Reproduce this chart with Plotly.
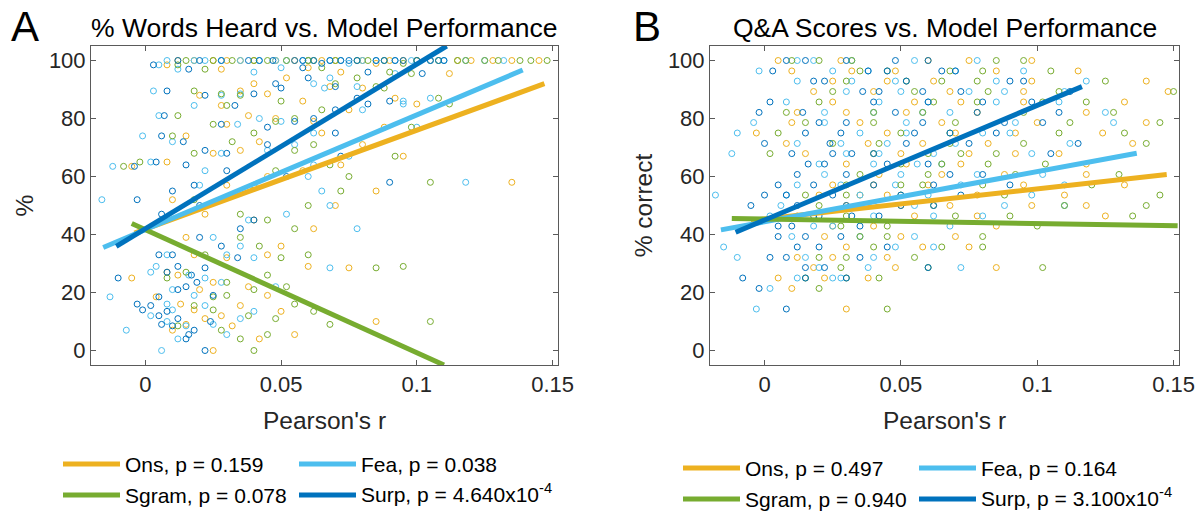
import plotly.graph_objects as go

# ---------------- data ----------------
series_names = ["Ons", "Fea", "Sgram", "Surp"]
series_colors = ["#EDB120", "#4DBEEE", "#77AC30", "#0072BD"]

# Panel A: % words heard per subject and Pearson's r per model
a_y = [100, 100, 100, 100, 100, 100, 100, 100, 100, 100, 100, 100, 100, 100, 100, 100, 100, 100,
       97.5, 98.5, 96, 95.5, 92, 89.5, 88, 86, 84.5, 83, 81, 80, 87, 90.5,
       78, 75, 74, 72, 71, 68, 67, 65, 63.5, 62, 60, 58, 55,
       52, 50, 47, 45, 42, 39, 36,
       33, 32, 29, 28.5, 26, 25, 23.5, 21,
       18.5, 16, 15.5, 12, 11, 10, 8.5, 7, 4, 0, 13.5, 19,
       100, 100, 100, 99, 97, 94, 91, 88.5, 85, 79, 77, 69, 64, 57, 33, 27, 22, 14, 9, 5.5]
a_ons = [0.030, 0.065, 0.120, 0.145, 0.090, 0.012, 0.055, 0.080, 0.040, 0.135, 0.025, 0.070, 0.105, 0.048, 0.018, 0.095, 0.060, 0.115,
         0.060, 0.008, 0.072, 0.112, 0.040, 0.035, 0.020, 0.058, 0.028, 0.075, 0.038, 0.048, 0.092, 0.080,
         0.030, 0.065, 0.015, 0.042, 0.080, 0.025, 0.095, 0.008, -0.005, 0.058, 0.045, 0.135, 0.085,
         0.010, 0.070, 0.022, 0.040, 0.062, 0.015, 0.050,
         0.018, 0.030, 0.060, 0.075, 0.012, -0.005, 0.025, 0.020,
         0.004, 0.013, 0.035, 0.028, 0.022, 0.085, 0.032, 0.010, 0.042, 0.025, 0.050, 0.045,
         0.100, 0.035, 0.128, 0.085, 0.028, 0.052, 0.068, 0.045, 0.100, 0.062, 0.088, 0.035, 0.072, 0.030, 0.045, 0.008, 0.038, 0.018, 0.015, 0.055]
a_fea = [0.022, 0.060, 0.110, 0.105, 0.085, 0.008, 0.048, 0.092, 0.035, 0.125, 0.018, 0.072, 0.098, 0.052, 0.028, 0.118, 0.042, 0.080,
         0.050, 0.005, 0.040, 0.092, 0.062, 0.003, 0.028, 0.095, 0.018, 0.080, 0.005, 0.042, 0.105, 0.066,
         0.034, 0.062, -0.001, 0.010, 0.055, 0.028, 0.075, 0.002, -0.012, 0.022, 0.060, 0.118, 0.065,
         -0.016, 0.068, 0.052, 0.038, 0.078, 0.025, 0.035,
         0.008, 0.040, 0.004, 0.068, 0.016, 0.022, 0.028, 0.010,
         -0.013, 0.008, 0.022, 0.002, 0.035, 0.008, 0.015, -0.007, 0.012, 0.006, 0.040, 0.018,
         0.068, 0.058, 0.132, 0.075, 0.012, 0.068, 0.078, 0.035, 0.095, 0.050, 0.100, 0.045, 0.062, 0.020, 0.030, 0.002, 0.048, 0.010, 0.025, 0.030]
a_sgram = [0.045, 0.070, 0.125, 0.148, 0.115, 0.015, 0.060, 0.100, 0.052, 0.130, 0.032, 0.082, 0.118, 0.040, 0.025, 0.142, 0.078, 0.108,
           0.065, 0.012, 0.090, 0.098, 0.070, 0.018, 0.035, 0.050, 0.030, 0.065, 0.012, 0.055, 0.108, 0.088,
           0.025, 0.040, 0.010, 0.032, 0.062, 0.018, 0.092, -0.002, -0.008, 0.048, 0.075, 0.105, 0.072,
           0.018, 0.060, 0.035, 0.045, 0.055, 0.035, 0.042,
           0.022, 0.050, 0.095, 0.085, 0.045, 0.008, 0.030, 0.040,
           0.025, 0.055, 0.018, 0.038, 0.048, 0.105, 0.012, 0.028, 0.035, 0.040, 0.062, 0.030,
           0.088, 0.062, 0.138, 0.095, 0.022, 0.078, 0.085, 0.028, 0.112, 0.048, 0.098, 0.055, 0.068, 0.040, 0.060, 0.015, 0.052, 0.025, 0.068, 0.045]
a_surp = [0.028, 0.075, 0.095, 0.100, 0.078, 0.020, 0.068, 0.088, 0.055, 0.110, 0.047, 0.062, 0.092, 0.038, 0.012, 0.105, 0.058, 0.085,
          0.058, 0.003, 0.082, 0.102, 0.048, 0.008, 0.022, 0.090, 0.033, 0.070, 0.007, 0.062, 0.078, 0.050,
          0.028, 0.070, 0.006, 0.014, 0.045, 0.030, 0.072, 0.004, -0.004, 0.030, 0.052, 0.090, 0.010,
          -0.003, 0.020, 0.006, 0.040, 0.035, 0.020, 0.028,
          0.005, 0.034, 0.012, 0.022, 0.017, -0.010, 0.019, 0.012,
          0.005, -0.003, 0.002, 0.005, 0.012, 0.024, 0.010, 0.018, 0.015, 0.022, 0.008, 0.025,
          0.072, 0.042, 0.108, 0.065, 0.016, 0.060, 0.070, 0.040, 0.082, 0.055, 0.045, 0.022, 0.015, 0.018, 0.010, 0.008, 0.015, -0.001, 0.006, 0.016]

# Panel B: % correct on Q&A per subject and Pearson's r per model
b_y = [100, 100, 100, 96.4, 96.4, 96.4, 92.9, 92.9, 92.9, 89.3, 89.3, 89.3, 85.7, 85.7, 85.7,
       82.1, 82.1, 82.1, 78.6, 78.6, 78.6, 75.0, 75.0, 75.0, 71.4, 71.4, 71.4, 67.9, 67.9, 67.9,
       64.3, 64.3, 60.7, 60.7, 57.1, 57.1, 57.1, 53.6, 53.6, 53.6, 50.0, 50.0, 50.0,
       46.4, 46.4, 46.4, 42.9, 42.9, 39.3, 39.3, 35.7, 35.7, 32.1, 32.1, 28.6, 28.6,
       25.0, 25.0, 14.3, 21.4, 100, 96.4, 89.3, 85.7, 82.1, 78.6, 75.0, 71.4, 67.9,
       64.3, 60.7, 57.1, 53.6, 50.0, 92.9,
       100, 96.4, 92.9, 89.3, 85.7, 82.1, 78.6, 75.0, 71.4, 67.9, 64.3, 60.7, 57.1, 53.6, 50.0,
       46.4, 42.9, 39.3, 28.6, 25.0, 32.1, 35.7]
b_ons = [0.005, 0.060, 0.075, 0.010, 0.048, 0.085, 0.025, 0.062, 0.140, 0.040, 0.068, 0.148, 0.055, 0.095, 0.025,
         0.030, 0.078, 0.118, 0.010, 0.065, 0.100, 0.124, 0.045, -0.003, 0.038, 0.082, 0.135, 0.015, 0.050, 0.092,
         0.072, 0.118, 0.042, 0.088, 0.025, 0.060, 0.132, 0.020, 0.045, 0.110, 0.030, 0.068, 0.098,
         0.012, 0.055, 0.125, 0.040, 0.085, 0.022, 0.070, 0.030, 0.058, 0.025, 0.045, 0.018, 0.085,
         0.005, 0.038, 0.030, 0.010, 0.028, 0.115, 0.018, 0.132, 0.012, 0.140, 0.070, 0.008, 0.108,
         0.030, 0.118, 0.095, 0.078, 0.118, 0.098,
         0.098, 0.032, 0.045, 0.095, 0.072, 0.052, 0.035, 0.092, 0.058, 0.075, 0.052, 0.065, 0.040, 0.035, 0.050,
         0.078, 0.025, 0.050, 0.048, 0.022, 0.012, 0.075]
b_fea = [0.018, 0.032, 0.055, -0.002, 0.038, 0.070, 0.012, 0.048, 0.118, 0.030, 0.075, 0.110, 0.042, 0.085, 0.008,
         0.022, 0.068, 0.125, -0.004, 0.052, 0.092, 0.090, 0.035, -0.010, 0.028, 0.070, 0.112, -0.012, 0.042, 0.098,
         0.056, 0.040, 0.022, 0.078, 0.012, 0.048, 0.110, -0.018, 0.035, 0.098, 0.006, 0.055, 0.088,
         0.002, 0.040, 0.080, 0.025, 0.068, 0.010, 0.055, -0.015, 0.048, 0.015, 0.040, 0.020, 0.072,
         0.028, 0.025, -0.003, 0.002, 0.012, 0.095, 0.050, 0.108, 0.040, 0.128, 0.080, 0.012, 0.062,
         0.020, 0.102, 0.072, 0.060, 0.110, 0.085,
         0.078, 0.025, 0.032, 0.088, 0.060, 0.058, 0.022, 0.052, 0.045, 0.030, 0.065, 0.050, 0.028, 0.008, 0.040,
         0.062, 0.018, 0.035, 0.038, 0.012, -0.010, 0.062]
b_sgram = [0.020, 0.032, 0.095, 0.045, 0.068, 0.105, 0.030, 0.078, 0.125, 0.055, 0.082, 0.150, 0.062, 0.102, 0.020,
           0.040, 0.058, 0.128, 0.015, 0.070, 0.112, 0.132, 0.050, 0.005, 0.042, 0.095, 0.140, 0.002, 0.060, 0.085,
           0.065, 0.103, 0.035, 0.092, 0.030, 0.080, 0.120, 0.015, 0.050, 0.145, 0.020, 0.062, 0.110,
           0.030, 0.070, 0.135, 0.045, 0.100, 0.035, 0.080, 0.040, 0.065, 0.030, 0.055, 0.028, 0.102,
           0.015, 0.042, 0.045, 0.020, 0.010, 0.080, 0.025, 0.118, 0.008, 0.145, 0.068, 0.025, 0.072,
           0.050, 0.130, 0.058, 0.088, 0.140, 0.065,
           0.085, 0.035, 0.052, 0.108, 0.078, 0.095, 0.040, 0.108, 0.068, 0.040, 0.082, 0.060, 0.050, 0.030, 0.035,
           0.090, 0.028, 0.045, 0.060, 0.030, 0.020, 0.080]
b_surp = [0.008, 0.030, 0.060, 0.003, 0.045, 0.065, 0.018, 0.052, 0.095, 0.042, 0.072, 0.112, 0.060, 0.080, 0.002,
          0.014, 0.048, 0.108, 0.020, 0.058, 0.088, 0.055, 0.028, 0.015, 0.024, 0.075, 0.115, 0.010, 0.032, 0.105,
          0.022, 0.060, 0.012, 0.068, 0.005, 0.040, 0.090, 0.008, 0.025, 0.072, -0.005, 0.030, 0.050,
          0.018, 0.020, 0.042, 0.010, 0.035, 0.005, 0.028, 0.012, 0.045, 0.008, 0.035, 0.015, 0.060,
          -0.008, 0.030, 0.008, -0.002, 0.015, 0.070, 0.036, 0.098, -0.002, 0.102, 0.085, 0.000, 0.040,
          0.016, 0.080, 0.062, 0.050, 0.062, 0.090,
          0.048, 0.038, 0.022, 0.058, 0.040, 0.078, 0.030, 0.068, 0.052, 0.025, 0.045, 0.030, 0.018, 0.000, 0.012,
          0.032, 0.005, 0.015, 0.022, 0.015, 0.002, 0.020]

# least-squares fit lines (start / end points)
a_fit_x0 = [-0.004, -0.0155, -0.005, -0.0107]
a_fit_x1 = [0.147, 0.139, 0.110, 0.111]
a_fit_y0 = [40.5, 35.5, 43.8, 35.9]
a_fit_y1 = [92.0, 96.7, -5.0, 105.0]
b_fit_x0 = [-0.005, -0.016, -0.012, -0.0106]
b_fit_x1 = [0.1475, 0.1365, 0.1515, 0.1164]
b_fit_y0 = [44.8, 41.6, 45.5, 40.8]
b_fit_y1 = [60.7, 68.0, 43.0, 91.0]

a_pvals = ["0.159", "0.038", "0.078", "4.640x10<sup>-4</sup>"]
b_pvals = ["0.497", "0.164", "0.940", "3.100x10<sup>-4</sup>"]

x_tickvals = [0, 0.05, 0.1, 0.15]
x_ticktext = ["0", "0.05", "0.1", "0.15"]
y_tickvals = [0, 20, 40, 60, 80, 100]

# ---------------- figure ----------------
W, H = 1201, 513
FONT = "Liberation Sans, Arial, Helvetica, sans-serif"
TXT = "#262626"

def px_x(p):
    return p / W

def px_y(p):
    return 1 - p / H

fig = go.Figure()

panels = [
    dict(xa="x", ya="y", ys=a_y, xs=[a_ons, a_fea, a_sgram, a_surp],
         fx0=a_fit_x0, fx1=a_fit_x1, fy0=a_fit_y0, fy1=a_fit_y1, pv=a_pvals,
         # legend layout in pixels: column line starts and row centres
         leg_cols=[63, 299, 63, 299], leg_rows=[464, 464, 495, 495]),
    dict(xa="x2", ya="y2", ys=b_y, xs=[b_ons, b_fea, b_sgram, b_surp],
         fx0=b_fit_x0, fx1=b_fit_x1, fy0=b_fit_y0, fy1=b_fit_y1, pv=b_pvals,
         leg_cols=[683, 919, 683, 919], leg_rows=[468, 468, 499, 499]),
]

for p in panels:
    for i, name in enumerate(series_names):
        fig.add_trace(go.Scatter(
            x=p["xs"][i], y=p["ys"], mode="markers", xaxis=p["xa"], yaxis=p["ya"],
            marker=dict(symbol="circle-open", size=6, color=series_colors[i],
                        line=dict(width=1, color=series_colors[i])),
            showlegend=False, hoverinfo="skip"))
    for i, name in enumerate(series_names):
        fig.add_trace(go.Scatter(
            x=[p["fx0"][i], p["fx1"][i]], y=[p["fy0"][i], p["fy1"][i]],
            mode="lines", xaxis=p["xa"], yaxis=p["ya"],
            line=dict(color=series_colors[i], width=5),
            name=f"{name}, p = {p['pv'][i]}", showlegend=False))
        # legend entry drawn as a line sample and a label
        x0 = p["leg_cols"][i]
        yc = p["leg_rows"][i]
        fig.add_shape(type="line", xref="paper", yref="paper",
                      x0=px_x(x0), x1=px_x(x0 + 57), y0=px_y(yc), y1=px_y(yc),
                      line=dict(color=series_colors[i], width=5))
        has_sup = "<sup>" in p["pv"][i]
        fig.add_annotation(text=f"{name}, p = {p['pv'][i]}", xref="paper", yref="paper",
                           x=px_x(x0 + 60), y=px_y(yc - (2 if has_sup else 0)),
                           showarrow=False, xanchor="left", yanchor="middle",
                           font=dict(family=FONT, size=21, color="#000000"))

axis_common = dict(
    showgrid=False, zeroline=False, showline=True, linecolor="#5a5a5a", linewidth=1,
    mirror="ticks", ticks="inside", ticklen=5, tickcolor="#5a5a5a", tickwidth=1,
    tickfont=dict(family=FONT, size=22, color=TXT),
)

yd = [px_y(365), px_y(46)]
fig.update_layout(
    width=W, height=H, margin=dict(l=0, r=0, t=0, b=0),
    paper_bgcolor="white", plot_bgcolor="white", showlegend=False,
    font=dict(family=FONT, color=TXT),
    xaxis=dict(domain=[px_x(91), px_x(558)], range=[-0.02, 0.152], tickvals=x_tickvals,
               ticktext=x_ticktext, anchor="y", automargin=False,
               title=dict(text="Pearson's r", font=dict(size=24.5, family=FONT, color=TXT)), **axis_common),
    yaxis=dict(domain=yd, range=[-5, 105], tickvals=y_tickvals, anchor="x", automargin=True,
               title=dict(text="%", standoff=8, font=dict(size=24.5, family=FONT, color=TXT)), **axis_common),
    xaxis2=dict(domain=[px_x(710), px_x(1179)], range=[-0.02, 0.152], tickvals=x_tickvals,
                ticktext=x_ticktext, anchor="y2", automargin=False,
                title=dict(text="Pearson's r", font=dict(size=24.5, family=FONT, color=TXT)), **axis_common),
    yaxis2=dict(domain=yd, range=[-5, 105], tickvals=y_tickvals, anchor="x2", automargin=True,
                title=dict(text="% correct", standoff=8, font=dict(size=24.5, family=FONT, color=TXT)), **axis_common),
)

# panel titles and letters
fig.add_annotation(text="% Words Heard vs. Model Performance", x=px_x(324.5), y=px_y(28),
                   xref="paper", yref="paper", showarrow=False, xanchor="center", yanchor="middle",
                   font=dict(family=FONT, size=26.5, color="#000000"))
fig.add_annotation(text="Q&A Scores vs. Model Performance", x=px_x(944.5), y=px_y(28),
                   xref="paper", yref="paper", showarrow=False, xanchor="center", yanchor="middle",
                   font=dict(family=FONT, size=26.5, color="#000000"))
fig.add_annotation(text="A", x=px_x(25), y=px_y(26), xref="paper", yref="paper", showarrow=False,
                   xanchor="center", yanchor="middle", font=dict(family=FONT, size=42, color="#000000"))
fig.add_annotation(text="B", x=px_x(647), y=px_y(26), xref="paper", yref="paper", showarrow=False,
                   xanchor="center", yanchor="middle", font=dict(family=FONT, size=42, color="#000000"))

fig.write_html("out.html")
